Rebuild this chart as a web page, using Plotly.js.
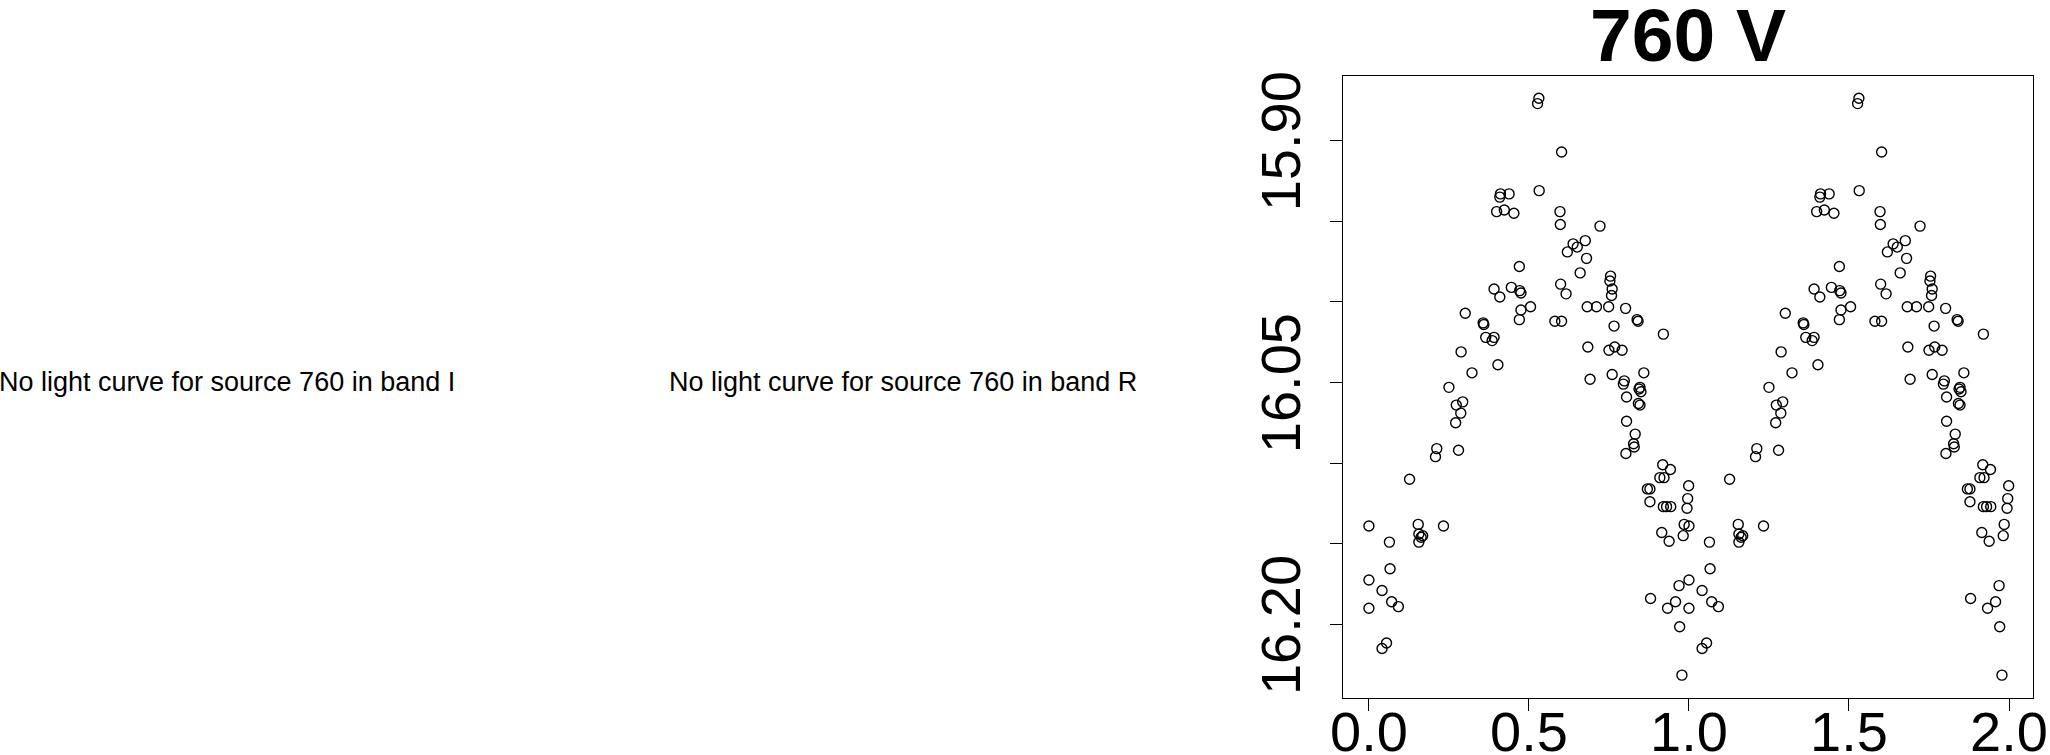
<!DOCTYPE html>
<html>
<head>
<meta charset="utf-8">
<script src="https://cdn.plot.ly/plotly-3.0.1.min.js"></script>
<style>
html,body{margin:0;padding:0;background:#fff;}
#chart{width:2050px;height:755px;}
</style>
</head>
<body>
<div id="chart"></div>
<script>
// Phased light curve, source 760, band V (one cycle; plotted twice, at phase and phase+1)
const phase = [
0.000,0.000,0.000,0.041,0.055,0.041,0.064,0.066,0.071,0.092,
0.127,0.154,0.156,0.168,0.163,0.156,0.233,0.212,0.208,0.280,
0.250,0.293,0.273,0.287,0.271,0.322,0.288,0.403,0.365,0.391,
0.385,0.357,0.359,0.301,0.391,0.409,0.445,0.471,0.475,0.475,
0.470,0.470,0.411,0.409,0.438,0.399,0.423,0.453,0.531,0.527,
0.602,0.532,0.597,0.598,0.722,0.638,0.651,0.676,0.620,0.680,
0.660,0.599,0.616,0.755,0.753,0.760,0.758,0.682,0.711,0.749,
0.802,0.505,0.581,0.602,0.838,0.841,0.766,0.920,0.684,0.750,
0.768,0.791,0.691,0.760,0.859,0.798,0.795,0.844,0.850,0.847,
0.805,0.842,0.847,0.805,0.832,0.827,0.829,0.803,0.918,0.942,
0.909,0.922,0.870,0.878,0.999,0.878,0.920,0.930,0.943,0.996,
0.994,0.985,0.915,0.938,0.982,0.969,0.880,0.958,0.933,0.971,
0.978
];
const mag = [
16.139,16.1725,16.190,16.179,16.2116,16.215,16.149,16.1655,16.186,16.189,
16.110,16.138,16.144,16.145,16.146,16.149,16.139,16.091,16.096,16.092,
16.053,16.062,16.064,16.069,16.075,16.044,16.031,16.039,16.022,16.022,
16.024,16.013,16.014,16.007,15.992,15.997,15.991,15.993,15.9945,16.005,
16.011,15.978,15.933,15.935,15.933,15.944,15.943,15.945,15.8737,15.877,
15.907,15.931,15.944,15.952,15.953,15.964,15.966,15.962,15.969,15.973,
15.982,15.989,15.995,15.984,15.987,15.992,15.996,16.003,16.003,16.003,
16.004,16.003,16.012,16.012,16.011,16.012,16.015,16.020,16.028,16.030,
16.028,16.030,16.048,16.045,16.044,16.049,16.051,16.054,16.0557,16.053,
16.059,16.063,16.064,16.074,16.082,16.088,16.090,16.094,16.101,16.104,
16.109,16.109,16.116,16.116,16.114,16.124,16.127,16.127,16.127,16.122,
16.128,16.138,16.143,16.1485,16.145,16.176,16.184,16.186,16.190,16.2015,
16.2315
];
const xTickVals = [0.0, 0.5, 1.0, 1.5, 2.0];
const xTickText = ["0.0", "0.5", "1.0", "1.5", "2.0"];
const yTickVals = [15.90, 15.95, 16.00, 16.05, 16.10, 16.15, 16.20];
const yTickText = ["15.90", "", "", "16.05", "", "", "16.20"];
const titleText = "760 V";
const noCurveI = "No light curve for source 760 in band I";
const noCurveR = "No light curve for source 760 in band R";

(function () {
  const phase2 = phase.map(p => p + 1);

  const W = 2050, H = 755;
  const boxL = 1343, boxR = 2033, boxT = 75.7, boxB = 697.7;

  const marker = {symbol: 'circle-open', size: 10, color: '#000', line: {width: 1.4, color: '#000'}};

  const traces = [
    {x: phase, y: mag, mode: 'markers', type: 'scatter', marker: marker, hoverinfo: 'x+y'},
    {x: phase2, y: mag, mode: 'markers', type: 'scatter', marker: marker, hoverinfo: 'x+y'}
  ];

  const font = "Liberation Sans, Arial, Helvetica, sans-serif";

  const layout = {
    width: W, height: H,
    margin: {l: 0, r: 0, t: 0, b: 0},
    paper_bgcolor: '#fff', plot_bgcolor: '#fff',
    showlegend: false,
    font: {family: font, color: '#000'},
    xaxis: {
      domain: [boxL / W, boxR / W],
      range: [-0.081, 2.075],
      tickvals: xTickVals, ticktext: xTickText,
      ticks: 'outside', ticklen: 12, tickwidth: 1, tickcolor: '#000',
      showline: true, linecolor: '#000', linewidth: 1, mirror: true,
      showgrid: false, zeroline: false,
      ticklabelstandoff: -27,
      ticklabeloverflow: 'allow',
      tickfont: {family: font, size: 56, color: '#000'}
    },
    yaxis: {
      domain: [1 - boxB / H, 1 - boxT / H],
      range: [16.2455, 15.8597],
      tickvals: yTickVals, ticktext: yTickText,
      tickangle: -90,
      ticks: 'outside', ticklen: 12, tickwidth: 1, tickcolor: '#000',
      showline: true, linecolor: '#000', linewidth: 1, mirror: true,
      showgrid: false, zeroline: false,
      ticklabelstandoff: 8,
      ticklabelshift: -9,
      ticklabeloverflow: 'allow',
      tickfont: {family: font, size: 56, color: '#000'}
    },
    annotations: [
      {text: titleText, xref: 'paper', yref: 'paper', x: (boxL + boxR) / 2 / W, y: 1 - 35 / H,
       xanchor: 'center', yanchor: 'middle', showarrow: false,
       font: {family: font, size: 75, color: '#000', weight: 'bold'}},
      {text: noCurveI, xref: 'paper', yref: 'paper', x: -3 / W, y: 1 - 382 / H,
       xanchor: 'left', yanchor: 'middle', showarrow: false,
       font: {family: font, size: 27, color: '#000'}},
      {text: noCurveR, xref: 'paper', yref: 'paper', x: 667 / W, y: 1 - 382 / H,
       xanchor: 'left', yanchor: 'middle', showarrow: false,
       font: {family: font, size: 27, color: '#000'}}
    ]
  };

  Plotly.newPlot('chart', traces, layout, {displayModeBar: false, staticPlot: true});
})();
</script>
</body>
</html>
